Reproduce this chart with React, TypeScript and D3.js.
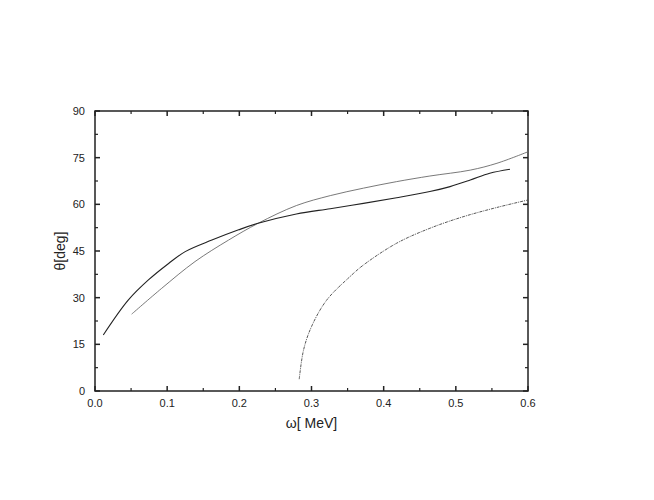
import React from "react";
import * as d3 from "d3";

// curves: omega [MeV] and theta [deg]
const solidOmega = [0.0115, 0.046, 0.074, 0.102, 0.125, 0.162, 0.199, 0.226, 0.279, 0.326, 0.372, 0.418, 0.464, 0.492, 0.52, 0.547, 0.575];
const solidTheta = [18.0, 29.2, 35.7, 41.0, 44.8, 48.5, 51.8, 53.9, 56.9, 58.6, 60.3, 62.1, 64.1, 65.7, 67.8, 70.0, 71.3];

const thinOmega = [0.0508, 0.0924, 0.1386, 0.185, 0.226, 0.279, 0.326, 0.372, 0.418, 0.464, 0.52, 0.557, 0.6];
const thinTheta = [24.7, 33.0, 41.6, 48.5, 53.9, 59.6, 62.8, 65.2, 67.3, 69.1, 71.0, 73.2, 76.9];

const dashOmega = [0.283, 0.289, 0.3, 0.321, 0.353, 0.372, 0.418, 0.464, 0.51, 0.557, 0.6];
const dashTheta = [3.8, 13.2, 20.7, 29.2, 36.7, 40.5, 47.5, 52.3, 56.0, 59.0, 61.4];

const xTicks = [0, 0.1, 0.2, 0.3, 0.4, 0.5, 0.6];
const yTicks = [0, 15, 30, 45, 60, 75, 90];

const W = 654;
const H = 500;
const left = 95;
const right = 528;
const top = 111;
const bottom = 391;

const App = () => {
  const x = d3.scaleLinear().domain([0, 0.6]).range([left, right]);
  const y = d3.scaleLinear().domain([0, 90]).range([bottom, top]);

  const line = d3
    .line<[number, number]>()
    .x((d) => x(d[0]))
    .y((d) => y(d[1]))
    .curve(d3.curveCatmullRom.alpha(0.5));

  const zip = (a: number[], b: number[]) => a.map((v, i) => [v, b[i]] as [number, number]);

  const xMinor = d3.range(0.05, 0.6, 0.1);
  const yMinor = d3.range(7.5, 90, 15);
  const font = "Liberation Sans, Arial, sans-serif";

  return (
    <svg
      width={W}
      height={H}
      style={{ position: "absolute", left: 0, top: 0, background: "#fff" }}
    >
      {/* frame */}
      <rect
        x={left}
        y={top}
        width={right - left}
        height={bottom - top}
        fill="none"
        stroke="#222"
        strokeWidth={1.5}
      />

      {/* ticks, pointing inward on all four sides */}
      {xTicks.map((t) => (
        <g key={"xt" + t}>
          <line x1={x(t)} x2={x(t)} y1={bottom} y2={bottom - 5} stroke="#222" strokeWidth={1.5} />
          <line x1={x(t)} x2={x(t)} y1={top} y2={top + 5} stroke="#222" strokeWidth={1.5} />
        </g>
      ))}
      {xMinor.map((t) => (
        <g key={"xm" + t}>
          <line x1={x(t)} x2={x(t)} y1={bottom} y2={bottom - 3} stroke="#222" strokeWidth={1.2} />
          <line x1={x(t)} x2={x(t)} y1={top} y2={top + 3} stroke="#222" strokeWidth={1.2} />
        </g>
      ))}
      {yTicks.map((t) => (
        <g key={"yt" + t}>
          <line x1={left} x2={left + 5} y1={y(t)} y2={y(t)} stroke="#222" strokeWidth={1.5} />
          <line x1={right} x2={right - 5} y1={y(t)} y2={y(t)} stroke="#222" strokeWidth={1.5} />
        </g>
      ))}
      {yMinor.map((t) => (
        <g key={"ym" + t}>
          <line x1={left} x2={left + 3} y1={y(t)} y2={y(t)} stroke="#222" strokeWidth={1.2} />
          <line x1={right} x2={right - 3} y1={y(t)} y2={y(t)} stroke="#222" strokeWidth={1.2} />
        </g>
      ))}

      {/* tick labels */}
      {xTicks.map((t) => (
        <text
          key={"xl" + t}
          x={x(t)}
          y={bottom + 16}
          textAnchor="middle"
          fontFamily={font}
          fontSize={11}
          fill="#222"
        >
          {t.toFixed(1)}
        </text>
      ))}
      {yTicks.map((t) => (
        <text
          key={"yl" + t}
          x={left - 10}
          y={y(t) + 4}
          textAnchor="end"
          fontFamily={font}
          fontSize={11}
          fill="#222"
        >
          {t}
        </text>
      ))}

      {/* axis titles */}
      <text
        x={(left + right) / 2}
        y={428}
        textAnchor="middle"
        fontFamily={font}
        fontSize={14}
        fill="#222"
      >
        ω[ MeV]
      </text>
      <text
        transform={`translate(65, ${(top + bottom) / 2}) rotate(-90)`}
        textAnchor="middle"
        fontFamily={font}
        fontSize={14}
        fill="#222"
      >
        θ[deg]
      </text>

      {/* curves */}
      <path d={line(zip(thinOmega, thinTheta)) || ""} fill="none" stroke="#6a6a6a" strokeWidth={0.9} />
      <path d={line(zip(solidOmega, solidTheta)) || ""} fill="none" stroke="#222" strokeWidth={1.1} />
      <path
        d={line(zip(dashOmega, dashTheta)) || ""}
        fill="none"
        stroke="#444"
        strokeWidth={0.9}
        strokeDasharray="3,1,1,1"
      />
    </svg>
  );
};

export default App;
